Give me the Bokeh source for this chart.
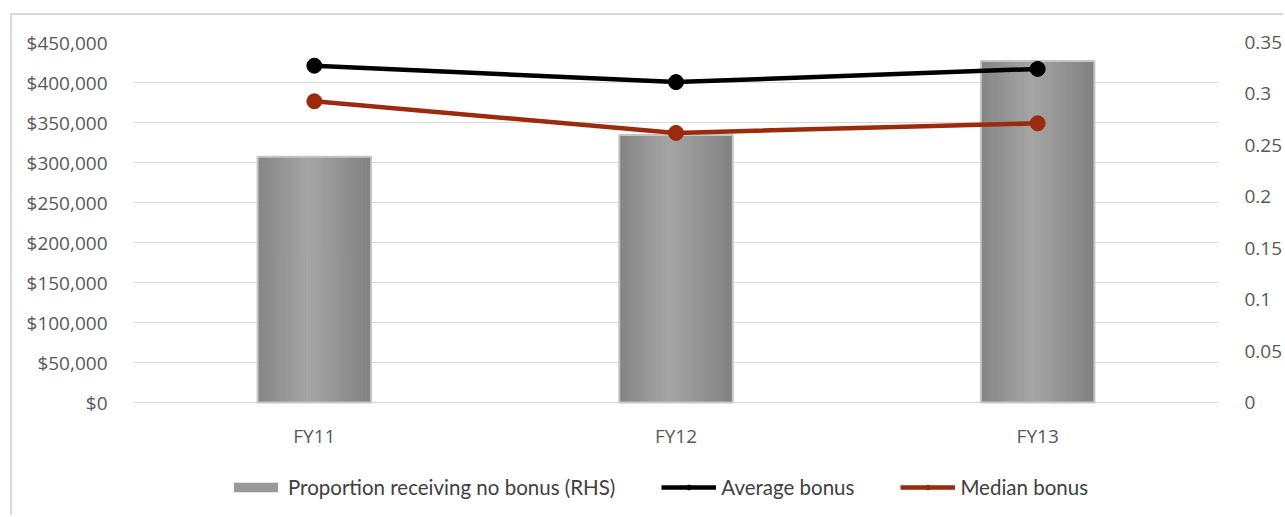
from bokeh.plotting import figure
from bokeh.models import (Range1d, LinearAxis, FixedTicker, Legend, LegendItem,
                          NumeralTickFormatter, ColumnDataSource)
from bokeh.core.properties import value
from bokeh.embed import file_html
from bokeh.resources import INLINE

# ---- data -------------------------------------------------------------
years = ["FY11", "FY12", "FY13"]
no_bonus_share = [0.239, 0.260, 0.332]          # right-hand axis
average_bonus = [421000, 400500, 417000]         # left-hand axis ($)
median_bonus = [376500, 337000, 349000]          # left-hand axis ($)

left_ticks = [0, 50000, 100000, 150000, 200000, 250000, 300000, 350000, 400000, 450000]
right_ticks = [0, 0.05, 0.1, 0.15, 0.2, 0.25, 0.3, 0.35]
LEFT_MAX = 450000
RIGHT_MAX = 0.35

# ---- styling ----------------------------------------------------------
AXIS_FONT = "Open Sans"
LEGEND_FONT = "Lato"
TEXT_COLOR = "#595959"
LEGEND_TEXT_COLOR = "#404040"
GRID_COLOR = "#d9d9d9"
RED = "#9c2a0c"
BAR_WIDTH = 0.314
N_STRIPS = 40

# the plot area runs 360 px for the value range and keeps 115 px
# underneath it for the category labels and the legend
PLOT_PX = 360
FOOT_PX = 115

xc = [i + 0.5 for i in range(len(years))]

p = figure(width=1273, height=502,
           x_range=Range1d(0, len(years)),
           y_range=Range1d(-LEFT_MAX * FOOT_PX / PLOT_PX, LEFT_MAX),
           output_backend="svg", toolbar_location=None,
           min_border_left=121, min_border_right=62,
           min_border_top=27, min_border_bottom=0)
p.margin = (13, 0, 0, 10)
p.styles = {"border-left": f"2px solid {GRID_COLOR}", "border-top": f"2px solid {GRID_COLOR}"}
p.outline_line_color = None
p.background_fill_color = "white"
p.border_fill_color = "white"
p.extra_y_ranges = {"share": Range1d(-RIGHT_MAX * FOOT_PX / PLOT_PX, RIGHT_MAX)}

# ---- bars (right axis), shaded with vertical strips -------------------
bar_src = ColumnDataSource(dict(x=xc, top=no_bonus_share))
base = p.vbar(x="x", top="top", bottom=0, width=BAR_WIDTH, source=bar_src,
              y_range_name="share", fill_color="#999999", line_color=None)

def shade(t):
    # dark edges, lighter band a little left of centre
    if t < 0.45:
        v = 0x84 + (0xa6 - 0x84) * (t / 0.45)
    else:
        v = 0xa6 + (0x80 - 0xa6) * ((t - 0.45) / 0.55)
    v = int(round(v))
    return "#%02x%02x%02x" % (v, v, v)

sw = BAR_WIDTH / N_STRIPS
for k in range(N_STRIPS):
    t = (k + 0.5) / N_STRIPS
    off = -BAR_WIDTH / 2 + (k + 0.5) * sw
    p.vbar(x=[c + off for c in xc], top=no_bonus_share, bottom=0, width=sw * 1.05,
           y_range_name="share", fill_color=shade(t), line_color=None)

p.vbar(x="x", top="top", bottom=0, width=BAR_WIDTH, source=bar_src,
       y_range_name="share", fill_color=None, line_color="#c6c6c6", line_width=2)

# ---- lines (left axis) -------------------------------------------------
line_src = ColumnDataSource(dict(x=xc, avg=average_bonus, med=median_bonus))
avg_l = p.line("x", "avg", source=line_src, line_color="black", line_width=4.5)
avg_s = p.scatter("x", "avg", source=line_src, size=15, fill_color="black", line_color="black")
med_l = p.line("x", "med", source=line_src, line_color=RED, line_width=4.5)
med_s = p.scatter("x", "med", source=line_src, size=15, fill_color=RED, line_color=RED)

# ---- axes ----------------------------------------------------------------
p.xgrid.visible = False
p.xaxis.visible = False
p.ygrid.grid_line_color = GRID_COLOR
p.ygrid.grid_line_width = 1
p.ygrid.ticker = FixedTicker(ticks=left_ticks)

ly = p.yaxis[0]
ly.ticker = FixedTicker(ticks=left_ticks)
ly.formatter = NumeralTickFormatter(format="$0,0")

ry = LinearAxis(y_range_name="share", ticker=FixedTicker(ticks=right_ticks),
                formatter=NumeralTickFormatter(format="0.[00]"))
p.add_layout(ry, "right")

for ax in (ly, ry):
    ax.axis_line_color = None
    ax.major_tick_line_color = None
    ax.minor_tick_line_color = None
    ax.major_label_text_font = AXIS_FONT
    ax.major_label_text_font_size = "19px"
    ax.major_label_text_color = TEXT_COLOR
ly.major_label_standoff = 20
ry.major_label_standoff = 20

# category labels under the zero line
p.text(x=xc, y=[0] * len(years), text=years, y_offset=33,
       text_align="center", text_baseline="middle",
       text_font=value(AXIS_FONT), text_font_size="19px", text_color=TEXT_COLOR)

# ---- legend -------------------------------------------------------------
legend = Legend(items=[
    LegendItem(label="Proportion receiving no bonus (RHS)", renderers=[base]),
    LegendItem(label="Average bonus", renderers=[avg_l, avg_s]),
    LegendItem(label="Median bonus", renderers=[med_l, med_s]),
], orientation="horizontal", location=(95, 18))
legend.border_line_color = None
legend.background_fill_alpha = 0
legend.glyph_width = 55
legend.glyph_height = 12
legend.label_standoff = 5
legend.spacing = 46
legend.padding = 4
legend.margin = 0
legend.label_text_font = LEGEND_FONT
legend.label_text_font_size = "20.5px"
legend.label_text_color = LEGEND_TEXT_COLOR
p.add_layout(legend, "center")

open("out.html", "w").write(file_html(p, INLINE))
